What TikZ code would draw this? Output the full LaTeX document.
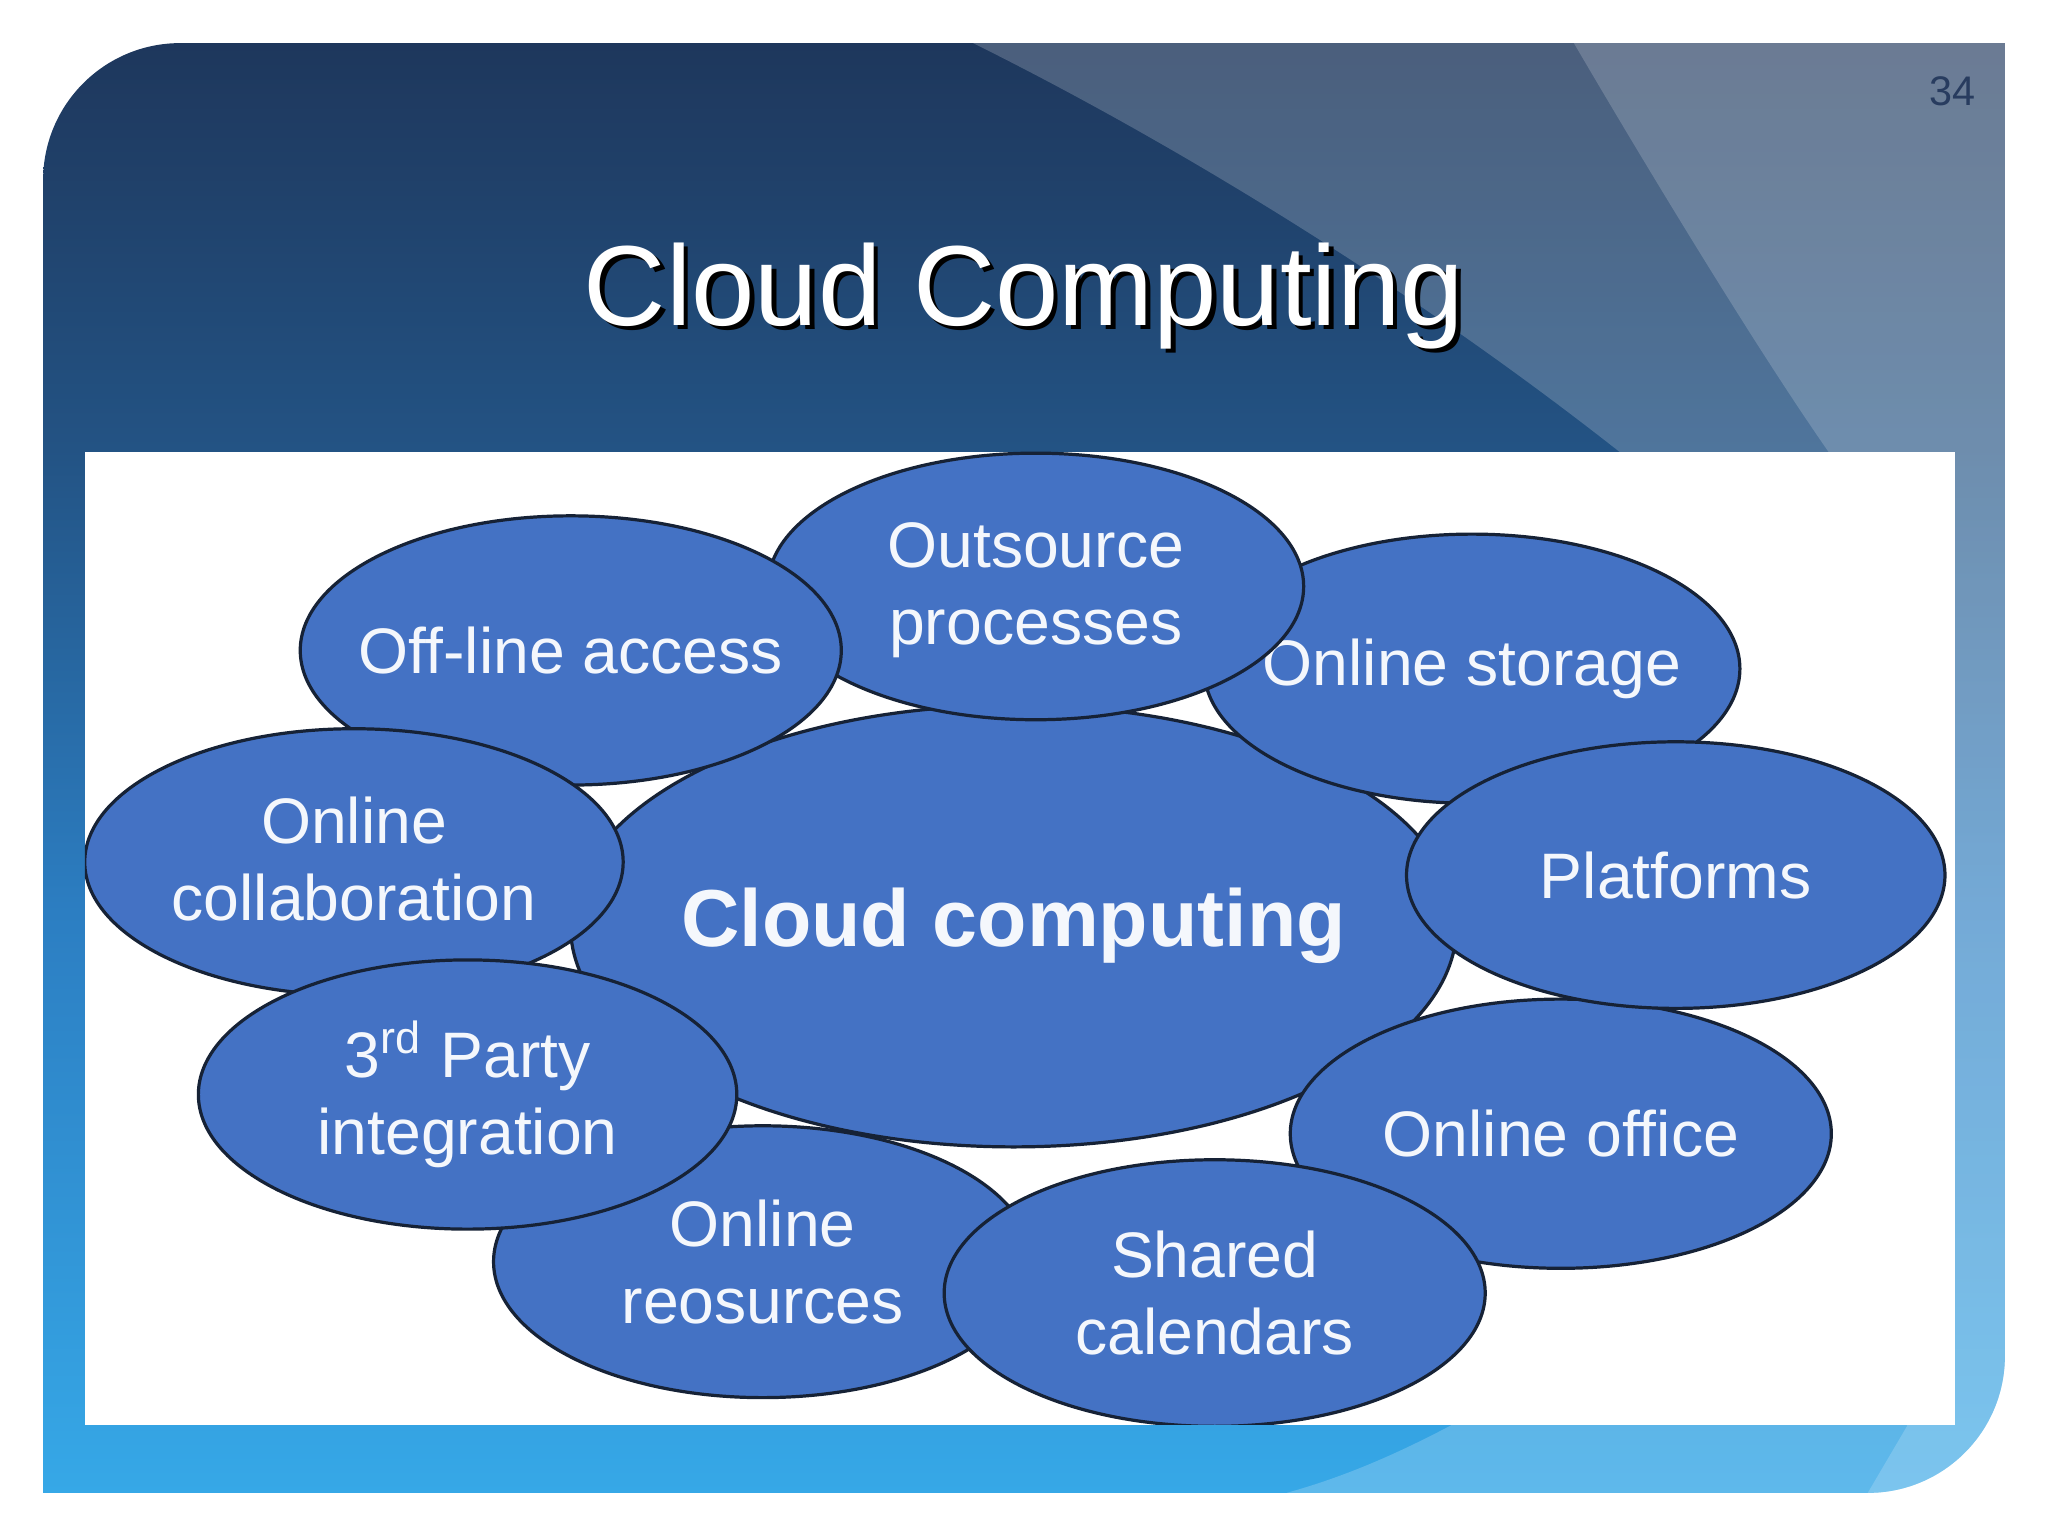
\documentclass[tikz,border=0pt]{standalone}
\usepackage{fontspec}
\setmainfont{Liberation Sans}
\usetikzlibrary{shapes.geometric}
\definecolor{ellfill}{RGB}{68,114,196}
\definecolor{ellline}{RGB}{22,34,54}
\definecolor{txtw}{RGB}{244,247,252}
\definecolor{bgtop}{RGB}{30,55,92}
\definecolor{bgtopb}{RGB}{35,83,132}
\definecolor{bgmid}{RGB}{44,126,194}
\definecolor{bgbot}{RGB}{54,168,231}
\definecolor{pagenum}{RGB}{40,60,95}
\pgfdeclareverticalshading{slidebg}{100bp}{color(0bp)=(bgbot); color(25bp)=(bgbot); color(45bp)=(bgmid); color(61bp)=(bgtopb); color(75bp)=(bgtop); color(100bp)=(bgtop)}
\tikzset{
  bubble/.style={ellipse, draw=ellline, line width=0.7pt, fill=ellfill, inner sep=0pt, minimum width=4.12cm, minimum height=2.05cm},
  bubbletext/.style={text=txtw, font=\fontsize{14}{16.8}\selectfont, align=center, inner sep=0pt},
  titletext/.style={font=\fontsize{24.8}{30}\selectfont, anchor=base, inner sep=0pt},
}
\begin{document}
\begin{tikzpicture}[x=0.01cm, y=-0.01cm]
\useasboundingbox (0,0) rectangle (1568,1176);
\fill[white] (0,0) rectangle (1568,1176);
% slide background
\def\slidepath{(33,1143) -- (33,138) .. controls (33,80) and (80,33) .. (138,33) -- (1535,33) -- (1535,1038) .. controls (1535,1096) and (1488,1143) .. (1430,1143) -- cycle}
\shade[shading=slidebg] \slidepath;
\begin{scope}
  \clip \slidepath;
  \fill[white, opacity=0.2] (745,33) .. controls (900,110) and (1080,220) .. (1240,346) -- (1330,600) -- (1200,1040) .. controls (1110,1095) and (1050,1125) .. (985,1143) -- (1600,1143) -- (1600,0) -- (745,0) -- cycle;
  \fill[white, opacity=0.18] (1205,33) .. controls (1250,110) and (1340,260) .. (1400,346) -- (1460,1092) -- (1430,1143) -- (1600,1143) -- (1600,0) -- (1205,0) -- cycle;
\end{scope}
% title and page number
\node[titletext, text=black] (titleshadow) at (787.5,252.5) {Cloud Computing};
\node[titletext, text=white] (title) at (784,249) {Cloud Computing};
\node[anchor=base, inner sep=0pt, text=pagenum, font=\fontsize{9}{11}\selectfont] (page) at (1495,81) {34};
% white panel
\fill[white] (65,346) rectangle (1497,1091);
\begin{scope}
  \clip (65,346) rectangle (1497,1091);
  \node[bubble, minimum width=6.78cm, minimum height=3.38cm, label={[bubbletext, font=\fontsize{17.6}{21}\selectfont\bfseries]center:Cloud computing}] (cloud) at (776,709) {};
  \node[bubble, minimum width=4.10cm, minimum height=2.06cm, label={[bubbletext]center:Online storage}] (storage) at (1127,512) {};
  \node[bubble, minimum width=4.10cm, minimum height=2.04cm, label={[bubbletext, yshift=-0.03cm]center:Outsource\\processes}] (outsource) at (793,449) {};
  \node[bubble, minimum width=4.14cm, minimum height=2.06cm, label={[bubbletext]center:Off-line access}] (offline) at (437,498) {};
  \node[bubble, minimum width=4.12cm, minimum height=2.04cm, label={[bubbletext, yshift=0.02cm]center:Online\\collaboration}] (collab) at (271,660) {};
  \node[bubble, minimum width=4.12cm, minimum height=2.08cm, label={[bubbletext]center:Online\\reosurces}] (resources) at (584,966) {};
  \node[bubble, minimum width=4.12cm, minimum height=2.06cm, label={[bubbletext]center:3\textsuperscript{rd} Party\\integration}] (third) at (358,838) {};
  \node[bubble, minimum width=4.14cm, minimum height=2.06cm, label={[bubbletext]center:Online office}] (office) at (1195,868) {};
  \node[bubble, minimum width=4.14cm, minimum height=2.04cm, label={[bubbletext]center:Shared\\calendars}] (calendars) at (930,990) {};
  \node[bubble, minimum width=4.12cm, minimum height=2.04cm, label={[bubbletext]center:Platforms}] (platforms) at (1283,670) {};
\end{scope}
\end{tikzpicture}
\end{document}
